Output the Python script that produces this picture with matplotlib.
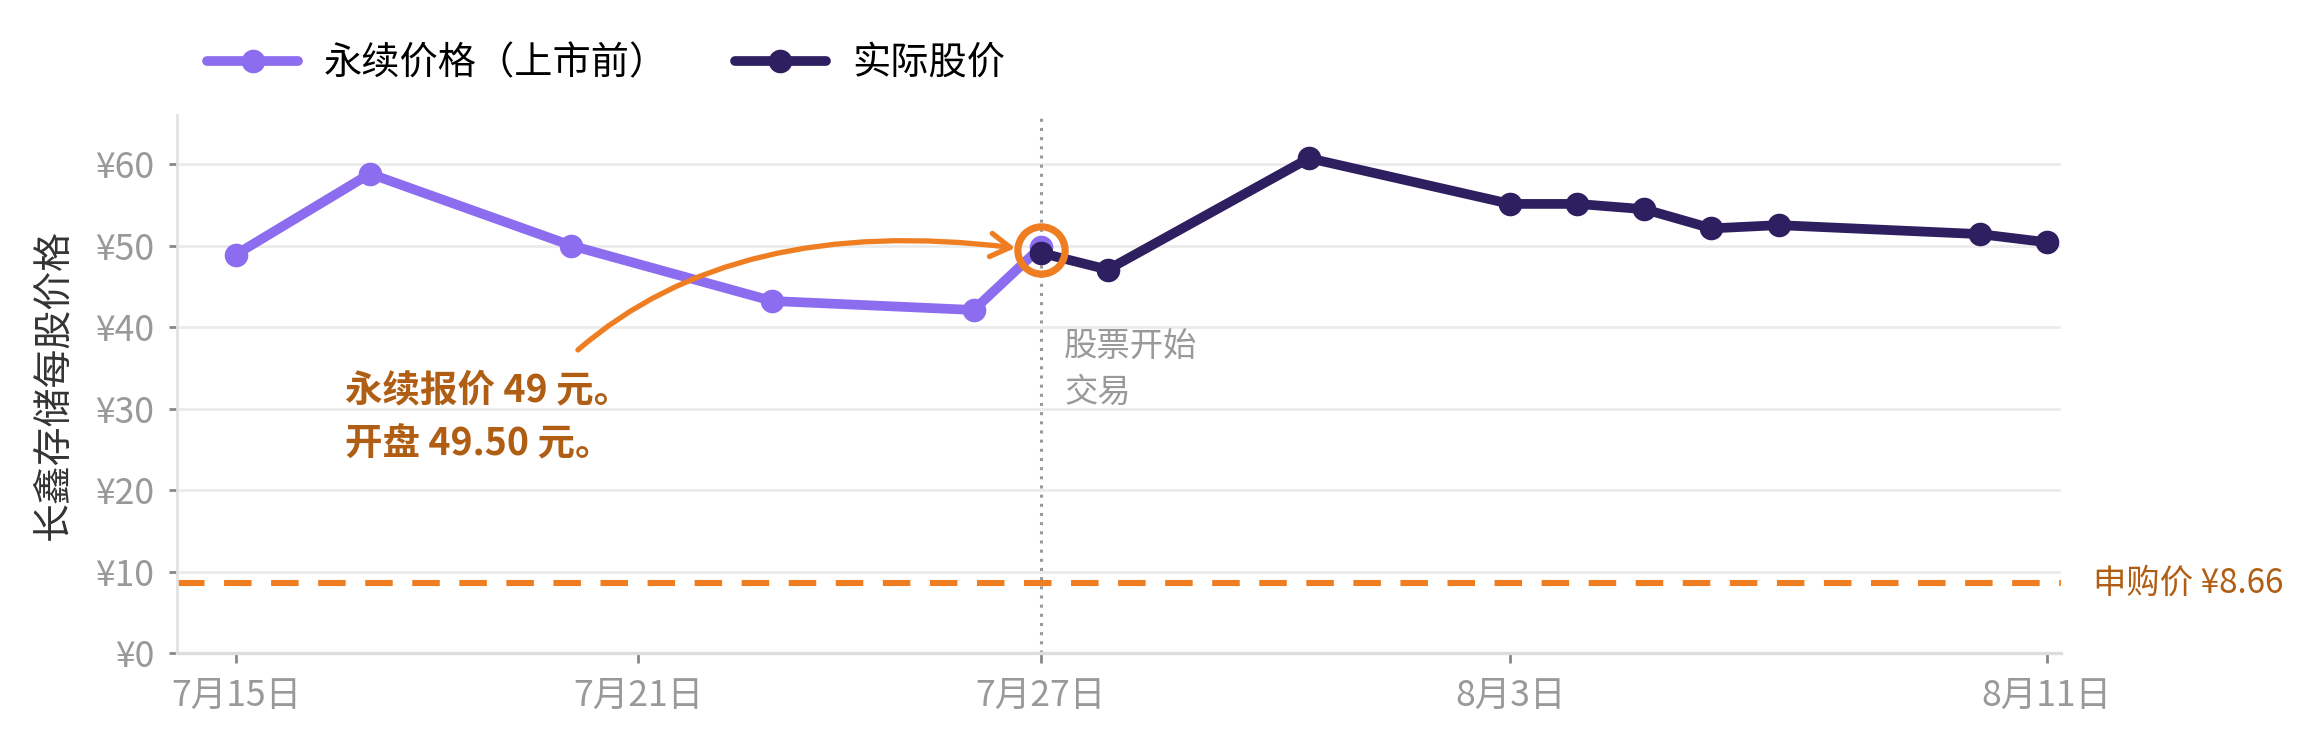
import pandas as pd
import matplotlib
matplotlib.use("Agg")
import matplotlib.pyplot as plt

plt.rcParams['font.family'] = ['Noto Sans CJK SC', 'DejaVu Sans']

# data
pre_dates = ["2025-07-15", "2025-07-17", "2025-07-20", "2025-07-23", "2025-07-26", "2025-07-27"]
pre_prices = [48.9, 58.8, 50.0, 43.2, 42.1, 49.8]

real_dates = ["2025-07-27", "2025-07-28", "2025-07-31", "2025-08-03", "2025-08-04",
              "2025-08-05", "2025-08-06", "2025-08-07", "2025-08-10", "2025-08-11"]
real_prices = [49.1, 47.05, 60.7, 55.1, 55.1, 54.45, 52.1, 52.5, 51.4, 50.4]

ipo_price = 8.66
listing_date = "2025-07-27"
open_price = 49.5

tick_dates = ["2025-07-15", "2025-07-21", "2025-07-27", "2025-08-03", "2025-08-11"]
tick_labels = ["7月15日", "7月21日", "7月27日", "8月3日", "8月11日"]
y_ticks = [0, 10, 20, 30, 40, 50, 60]
y_labels = ["¥0", "¥10", "¥20", "¥30", "¥40", "¥50", "¥60"]

PURPLE = "#8C6DEF"
DARK = "#2E2060"
ORANGE = "#EF7E22"
BROWN = "#B05E14"
GRAY = "#999999"

pre_x = pd.to_datetime(pre_dates)
real_x = pd.to_datetime(real_dates)
t0 = pd.Timestamp(tick_dates[0])
day = pd.Timedelta(days=1)

fig = plt.figure(figsize=(11.555, 3.69), dpi=200)
ax = fig.add_axes([0.0765, 0.1145, 0.8153, 0.7297])

ax.plot(pre_x, pre_prices, color=PURPLE, lw=3.5, marker="o", ms=7.5,
        solid_capstyle="round", label="永续价格（上市前）", zorder=3)
ax.plot(real_x, real_prices, color=DARK, lw=3.5, marker="o", ms=7.5,
        solid_capstyle="round", label="实际股价", zorder=4)

# subscription price
ax.axhline(ipo_price, color=ORANGE, lw=2.2, ls=(0, (4.5, 3.2)), zorder=2)
ax.text(1.017, ipo_price, "申购价 ¥8.66", transform=ax.get_yaxis_transform(),
        color=BROWN, fontsize=12, va="center", ha="left")

# listing day marker
ax.axvline(pd.Timestamp(listing_date), color=GRAY, lw=1.1, ls=(0, (1, 2)), zorder=1.5)
ax.text(pd.Timestamp(listing_date) + 0.35 * day, 39.6, "股票开始\n交易",
        color=GRAY, fontsize=12, va="top", ha="left", linespacing=1.35)

ax.plot([pd.Timestamp(listing_date)], [open_price], marker="o", ms=17, mfc="none",
        mec=ORANGE, mew=2.6, zorder=6)

ax.annotate("", xy=(t0 + 11.62 * day, 49.7), xytext=(t0 + 5.1 * day, 37.2),
            arrowprops=dict(arrowstyle="->,head_length=0.5,head_width=0.3",
                            color=ORANGE, lw=1.9, shrinkA=0, shrinkB=0,
                            mutation_scale=14,
                            connectionstyle="angle3,angleA=41,angleB=-7"),
            zorder=5)
ax.text(t0 + 1.63 * day, 29.1, "永续报价 49 元。\n开盘 49.50 元。", color=BROWN,
        fontsize=13.5, fontweight="bold", va="center", ha="left", linespacing=1.45)

# axes styling
ax.set_xlim(t0 - 0.88 * day, t0 + 27.21 * day)
ax.set_ylim(0, 66)
ax.set_xticks(pd.to_datetime(tick_dates))
ax.set_xticklabels(tick_labels)
ax.set_yticks(y_ticks)
ax.set_yticklabels(y_labels)
ax.tick_params(axis="both", colors="#888888", labelcolor=GRAY, labelsize=12.8)
ax.tick_params(axis="y", length=3, width=1, pad=5)
ax.tick_params(axis="x", length=3.6, width=1, pad=5)
ax.grid(axis="y", color="#EBEBEB", lw=1)
ax.grid(axis="x", visible=False)
ax.set_axisbelow(True)
for s in ["top", "right"]:
    ax.spines[s].set_visible(False)
ax.spines["left"].set_color("#E2E2E2")
ax.spines["bottom"].set_color("#DDDDDD")
ax.spines["left"].set_linewidth(1)
ax.spines["bottom"].set_linewidth(1.2)

ax.set_ylabel("长鑫存储每股价格", fontsize=14, color="#333333", labelpad=8)

fig.legend(loc="center left", bbox_to_anchor=(0.0896, 0.914), ncol=2, frameon=False,
           fontsize=13.75, handlelength=2.38, handletextpad=0.68, columnspacing=1.75,
           borderpad=0, borderaxespad=0, numpoints=1)

fig.savefig("out.png", dpi=200)
